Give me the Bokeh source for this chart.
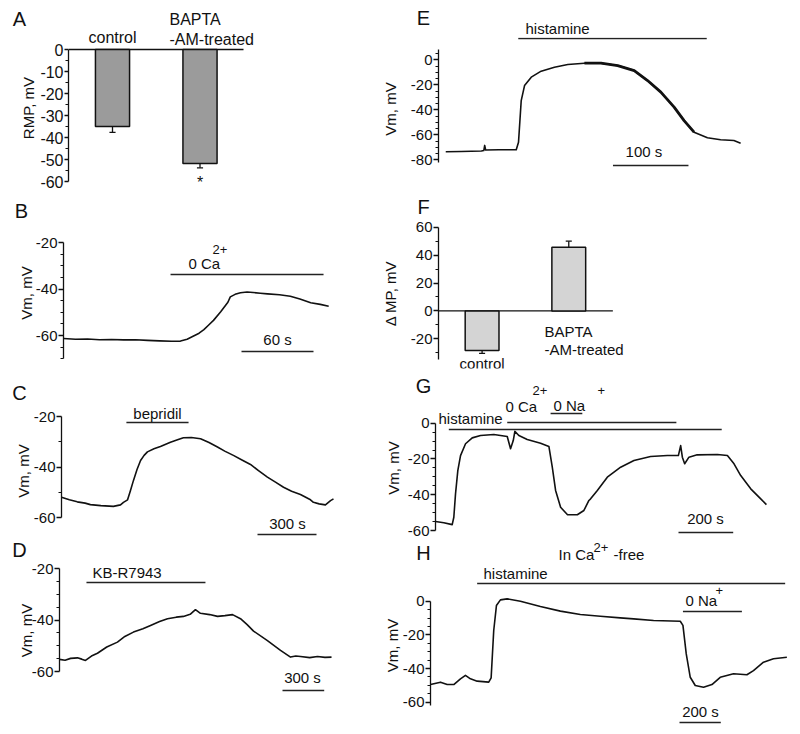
import math
from bokeh.plotting import figure
from bokeh.models import Range1d, FixedTicker, Label, CustomJSTickFormatter
from bokeh.layouts import row, column
from bokeh.embed import file_html
from bokeh.resources import INLINE

FONT = "Liberation Sans"
INK = "#111111"

# ---------------- data ----------------
# A: resting membrane potential (mV)
A_groups = ["control", "BAPTA -AM-treated"]
A_rmp = [-35.0, -51.8]
A_sem = [2.7, 2.0]

# F: change of membrane potential (mV)
F_groups = ["control", "BAPTA -AM-treated"]
F_dmp = [-28.4, 45.7]
F_sem = [2.0, 4.3]

# B: 0 Ca2+ (time s, Vm mV)
B_t = [0, 10, 20, 30, 40, 50, 60, 70, 80, 90, 97.5, 103, 108, 113, 117, 121, 125, 131, 137, 139,
       143, 147.5, 153, 158, 164, 170, 180, 189, 197, 206, 214, 221]
B_v = [-61.3, -61.6, -61.5, -61.8, -61.7, -61.9, -61.8, -62.1, -62.3, -62.5, -62.4, -61.6, -60.3,
       -59.0, -57.5, -55.5, -53.5, -49.8, -45.7, -43.4, -42.3, -41.6, -41.3, -41.5, -41.8, -42.1,
       -42.5, -43.1, -44.3, -45.9, -46.6, -47.4]
B_ca = [89.2, 216.7]
B_scale = 60

# C: bepridil
C_t = [0, 40, 80, 120, 147, 200, 264, 300, 315, 336, 350, 366, 384, 402, 420, 437, 470, 503, 554, 590,
       620, 660, 707, 750, 793, 830, 874, 920, 961, 1000, 1047, 1090, 1129, 1170, 1215, 1266, 1281,
       1310, 1342, 1368, 1383]
C_v = [-52.0, -53.0, -53.8, -54.3, -54.9, -55.3, -55.6, -55.0, -54.0, -53.0, -49.5, -45.3, -41.0,
       -37.4, -35.4, -34.0, -32.8, -31.9, -30.2, -29.2, -28.4, -28.3, -28.8, -30.3, -32.1, -33.7,
       -35.4, -37.3, -39.0, -41.3, -44.0, -46.1, -48.0, -49.6, -50.9, -53.0, -54.0, -54.6, -55.0,
       -53.3, -52.6]
C_bep = [330, 646]
C_scale = 300

# D: KB-R7943
D_t = [0, 40, 80, 129, 160, 187, 230, 273, 340, 417, 470, 532, 600, 655, 720, 777, 840, 892, 940, 978,
       1014, 1080, 1137, 1190, 1245, 1302, 1350, 1396, 1496, 1590, 1662, 1700, 1734, 1800, 1856,
       1910, 1957]
D_v = [-55.3, -55.6, -54.9, -54.7, -55.2, -55.7, -54.0, -52.9, -50.5, -48.6, -46.4, -44.7, -43.4,
       -42.1, -40.6, -39.5, -38.9, -38.6, -37.8, -36.0, -37.4, -37.9, -38.6, -38.3, -37.9, -39.5,
       -41.8, -44.3, -48.0, -51.8, -54.4, -54.0, -54.2, -54.6, -54.2, -54.5, -54.4]
D_kb = [194, 1050]
D_scale = 300

# E: histamine
E_t = [9.6, 30, 56.8, 60, 61.2, 62.5, 80, 103, 106, 109.6, 114, 122.9, 136, 153.6, 171.3, 193.3,
       215.3, 237.4, 259.3, 277, 294.6, 312.2, 325.4, 338.6, 356.3, 373.8, 391.4, 400.3]
E_v = [-73.6, -73.4, -73.0, -72.6, -68.5, -72.2, -72.0, -72.0, -66.0, -32.6, -20.6, -13.9, -9.1,
       -5.9, -3.8, -2.7, -2.7, -4.6, -8.6, -16.6, -25.9, -37.9, -48.6, -57.9, -62.4, -64.0, -64.6,
       -66.7]
E_his = [105.7, 355.4]
E_scale = 100

# G: histamine, 0 Ca2+, 0 Na+
G_t = [0, 30.4, 61.1, 67, 73.2, 81.6, 91.5, 109.8, 134.3, 164.7, 213.3, 262.3, 274.4, 284.3, 290.2,
       304.8, 335.5, 384.2, 414.6, 427, 439.1, 457.4, 481.9, 518.5, 542.6, 560.9, 567.1, 591.7,
       628.2, 676.9, 725.6, 786.4, 847.8, 888, 896.4, 902.6, 911, 926.7, 956.8, 1030.7, 1067.3,
       1091.5, 1116, 1152.6, 1189.2, 1210]
G_v = [-55.0, -55.7, -56.7, -52.6, -39.5, -26.5, -18.1, -11.5, -8.2, -6.9, -6.3, -7.4, -14.3, -9.7,
       -4.6, -6.9, -9.1, -11.2, -13.0, -24.6, -37.6, -47.0, -51.1, -51.2, -48.8, -43.2, -42.3,
       -37.6, -30.2, -24.6, -20.9, -18.6, -18.1, -18.1, -12.5, -19.0, -22.7, -19.0, -17.7, -17.5,
       -18.1, -22.7, -29.3, -36.7, -42.3, -45.5]
G_his = [48.7, 1046.5]
G_ca = [262.3, 880.7]
G_na = [420.8, 536.8]
G_scale = 200

# H: histamine in Ca2+-free, 0 Na+
H_t = [0, 48.4, 80.8, 112.7, 145.1, 169.3, 193.5, 225.9, 282, 293.7, 306.2, 319.3, 338.7, 371.1,
       435.4, 532.2, 628.9, 725.7, 822.4, 919.2, 983.6, 1080.3, 1209.5, 1222.5, 1238.5, 1257.9,
       1282.1, 1322.2, 1362.9, 1403, 1467.4, 1532.2, 1564.1, 1612.5, 1660.9, 1725.7]
H_v = [-49.5, -48.1, -49.5, -49.5, -46.1, -44.1, -46.1, -47.5, -48.1, -45.5, -17.4, -2.6, 0.8, 1.4,
       0.0, -3.2, -5.9, -7.9, -8.9, -9.9, -10.5, -11.5, -11.9, -14.4, -31.3, -45.2, -50.1, -51.1,
       -49.5, -45.2, -43.1, -43.7, -41.2, -36.2, -34.2, -33.3]
H_his = [225.9, 1717.5]
H_na = [1222.5, 1508]
H_scale = 200


# ---------------- helpers ----------------
def lin(v1, p1, v2, p2):
    s = (v2 - v1) / (p2 - p1)
    return lambda q: v1 + (q - p1) * s


def base_fig(fw, fh, xr, yr, borders, axis):
    l, r, t, b = borders
    p = figure(width=fw, height=fh, title=None, x_range=xr, y_range=yr,
               x_axis_type=None, y_axis_type=("linear" if axis else None),
               toolbar_location=None, output_backend="svg",
               min_border_left=l, min_border_right=r, min_border_top=t, min_border_bottom=b,
               frame_align=False)
    for g in p.grid:
        g.visible = False
    p.outline_line_color = None
    p.background_fill_color = "white"
    p.border_fill_color = "white"
    return p


def strip(box):
    """A text-only band (panel letter and labels) in page pixel coordinates."""
    fx, fy, fw, fh = box
    p = base_fig(fw, fh, Range1d(fx, fx + fw), Range1d(fy + fh, fy), (0, 0, 0, 0), False)
    ident = lambda q: q
    return (p, ident, ident)


def panel(box, frame, xmap, ymap):
    fx, fy, fw, fh = box
    l, t, r, b = frame
    xv, yv = lin(*xmap), lin(*ymap)
    p = base_fig(fw, fh, Range1d(xv(l), xv(r)), Range1d(yv(b), yv(t)),
                 (l - fx, fx + fw - r, t - fy, fy + fh - b), True)
    return (p, xv, yv)


def style_axis(P, major, minor, bounds, label, standoff, tick_out=5, size=15):
    ax = P[0].yaxis[0]
    ax.ticker = FixedTicker(ticks=major, minor_ticks=minor)
    ax.formatter = CustomJSTickFormatter(code="return tick.toString()")
    ax.bounds = bounds
    ax.axis_line_color = INK
    ax.axis_line_width = 1.3
    ax.major_tick_line_color = INK
    ax.major_tick_line_width = 1.3
    ax.minor_tick_line_color = INK
    ax.minor_tick_line_width = 1.1
    ax.major_tick_in = 0
    ax.major_tick_out = tick_out
    ax.minor_tick_in = 0
    ax.minor_tick_out = 3
    ax.major_label_standoff = 1
    ax.major_label_text_font = FONT
    ax.major_label_text_font_size = f"{size}px"
    ax.major_label_text_color = INK
    ax.axis_label = label
    ax.axis_label_text_font = FONT
    ax.axis_label_text_font_size = "15px"
    ax.axis_label_text_font_style = "normal"
    ax.axis_label_text_color = INK
    ax.axis_label_standoff = standoff


def put(P, px, py, text, size=15, align="left"):
    p, xv, yv = P
    p.add_layout(Label(x=xv(px), y=yv(py), text=text, text_font=FONT,
                       text_font_size=f"{size}px", text_align=align,
                       text_baseline="middle", text_color=INK))


def hline(P, t0, t1, py, width=1.5):
    p, xv, yv = P
    p.line([t0, t1], [yv(py), yv(py)], line_color="#222222", line_width=width)


def trace(P, t, v, width=1.6):
    P[0].line(t, v, line_color=INK, line_width=width, line_join="round")


def bars(P, vals, sems, color, base_px):
    p, xv, yv = P
    xs = [1, 2]
    # zero baseline from the y axis to its right end
    p.segment(x0=[xv(base_px[0])], y0=[0], x1=[xv(base_px[1])], y1=[0],
              line_color=INK, line_width=1.3)
    p.vbar(x=xs, top=vals, bottom=0, width=0.39, fill_color=color,
           line_color=INK, line_width=1.5)
    ends = [v + math.copysign(s, v) for v, s in zip(vals, sems)]
    p.segment(x0=xs, y0=vals, x1=xs, y1=ends, line_color=INK, line_width=1.3)
    p.segment(x0=[x - 0.035 for x in xs], y0=ends, x1=[x + 0.035 for x in xs], y1=ends,
              line_color=INK, line_width=1.3)


def every5(lo, hi, skip):
    return [v for v in range(lo, hi + 1, 5) if v not in skip]


LX, LW = 0, 378     # left column
RX, RW = 378, 422   # right column

# ================= left column =================
# ---- A ----
SA = strip((LX, 0, LW, 29))
put(SA, 19, 18, "A", 20, "center")
put(SA, 169, 19, "BAPTA", 16)
PA = panel((LX, 29, LW, 162), (68, 29, 262, 186), (1, 112, 2, 199.5), (0, 49, -60, 181))
bars(PA, A_rmp, A_sem, "#9b9b9b", (68, 243))
put(PA, 112, 37, A_groups[0], 16, "center")
put(PA, 169, 38.5, "-AM-treated", 16)
put(PA, 199.5, 182, "*", 16, "center")
majA = [0, -10, -20, -30, -40, -50, -60]
style_axis(PA, majA, every5(-60, 0, majA), (-60, 0), "RMP, mV", 0, tick_out=4, size=16)

# ---- B ----
SB = strip((LX, 191, LW, 34))
put(SB, 21, 210, "B", 20, "center")
PB = panel((LX, 225, LW, 140), (63, 225, 350, 360), (0, 63, 60, 135), (-20, 242, -60, 335))
trace(PB, B_t, B_v)
hline(PB, B_ca[0], B_ca[1], 274)
put(PB, 188, 263, "0 Ca")
put(PB, 212, 249, "2+", 13)
hline(PB, PB[1](241), PB[1](241) + B_scale, 351)
put(PB, 277, 339, f"{B_scale} s", 15, "center")
majB = [-20, -40, -60]
style_axis(PB, majB, every5(-70, -20, majB), (-70, -20), "Vm, mV", -2)

# ---- C ----
SC = strip((LX, 365, LW, 39))
put(SC, 19, 392, "C", 20, "center")
PC = panel((LX, 404, LW, 133), (61, 404, 350, 537), (0, 61, 300, 120), (-20, 416, -60, 517))
trace(PC, C_t, C_v)
hline(PC, C_bep[0], C_bep[1], 422)
put(PC, 157, 413, "bepridil", 15, "center")
hline(PC, PC[1](257), PC[1](257) + C_scale, 534)
put(PC, 287, 523, f"{C_scale} s", 15, "center")
style_axis(PC, majB, [-30, -50], (-60, -20), "Vm, mV", -1)

# ---- D ----
SD = strip((LX, 537, LW, 23))
put(SD, 19, 549, "D", 20, "center")
PD = panel((LX, 560, LW, 170), (59, 560, 350, 700), (0, 59, 300, 100.7), (-20, 568, -60, 671))
trace(PD, D_t, D_v)
hline(PD, D_kb[0], D_kb[1], 582)
put(PD, 92, 572, "KB-R7943")
hline(PD, PD[1](282), PD[1](282) + D_scale, 690)
put(PD, 302, 677, f"{D_scale} s", 15, "center")
style_axis(PD, majB, every5(-60, -20, majB), (-60, -20), "Vm, mV", -6)

# ================= right column =================
# ---- E ----
SE = strip((RX, 0, RW, 37))
put(SE, 423, 17, "E", 20, "center")
put(SE, 525, 28, "histamine")
PE = panel((RX, 37, RW, 153), (437, 37, 775, 180), (0, 437, 100, 512.7), (0, 59.3, -80, 159.3))
trace(PE, E_t, E_v)
trace(PE, E_t[15:24], E_v[15:24], width=2.8)
hline(PE, E_his[0], E_his[1], 38)
hline(PE, PE[1](612), PE[1](612) + E_scale, 165)
put(PE, 643, 151, f"{E_scale} s", 15, "center")
majE = [0, -20, -40, -60, -80]
style_axis(PE, majE, every5(-80, 5, majE), (-82, 8), "Vm, mV", 9)

# ---- F ----
SF = strip((RX, 190, RW, 28))
put(SF, 423, 206.5, "F", 20, "center")
PF = panel((RX, 218, RW, 154), (436, 218, 650, 368), (1, 480, 2, 567.5), (0, 310.4, 60, 226.7))
bars(PF, F_dmp, F_sem, "#d4d4d4", (436, 612))
put(PF, 480, 363, F_groups[0], 15, "center")
put(PF, 543, 331, "BAPTA")
put(PF, 543, 349, "-AM-treated")
style_axis(PF, [60, 40, 20, 0, -20], [50, 30, 10, -10, -30], (-35, 60), "\u0394 MP, mV", 9)

# ---- G ----
SG = strip((RX, 372, RW, 25))
put(SG, 423, 385, "G", 20, "center")
put(SG, 532, 389.5, "2+", 13)
put(SG, 597, 389.5, "+", 13)
PG = panel((RX, 397, RW, 143), (435, 397, 785, 538), (0, 435, 200, 489.7), (0, 422.7, -60, 530))
trace(PG, G_t, G_v)
hline(PG, G_his[0], G_his[1], 429)
hline(PG, G_ca[0], G_ca[1], 422)
hline(PG, G_na[0], G_na[1], 413)
put(PG, 438, 417.5, "histamine")
put(PG, 505, 405.5, "0 Ca")
put(PG, 553, 404.5, "0 Na")
hline(PG, PG[1](678), PG[1](678) + G_scale, 532)
put(PG, 705, 518, f"{G_scale} s", 15, "center")
majG = [0, -20, -40, -60]
style_axis(PG, majG, every5(-60, 0, majG), (-60, 0), "Vm, mV", 3)

# ---- H ----
SH = strip((RX, 540, RW, 24))
put(SH, 423, 552.5, "H", 20, "center")
put(SH, 558, 554, "In Ca")
put(SH, 593, 547, "2+", 13)
put(SH, 613, 554, "-free")
PH = panel((RX, 564, RW, 166), (430, 564, 790, 726), (0, 430, 200, 471.3), (0, 600.7, -60, 701.7))
trace(PH, H_t, H_v)
hline(PH, H_his[0], H_his[1], 583)
put(PH, 483, 572.5, "histamine")
hline(PH, H_na[0], H_na[1], 611)
put(PH, 685, 600, "0 Na")
put(PH, 715, 590, "+", 13)
hline(PH, PH[1](679), PH[1](679) + H_scale, 722)
put(PH, 700, 711, f"{H_scale} s", 15, "center")
style_axis(PH, majG, every5(-60, 0, majG), (-62, 0), "Vm, mV", -1)

left = column(SA[0], PA[0], SB[0], PB[0], SC[0], PC[0], SD[0], PD[0])
right = column(SE[0], PE[0], SF[0], PF[0], SG[0], PG[0], SH[0], PH[0])
layout = row(left, right)
open("out.html", "w").write(file_html(layout, INLINE))
